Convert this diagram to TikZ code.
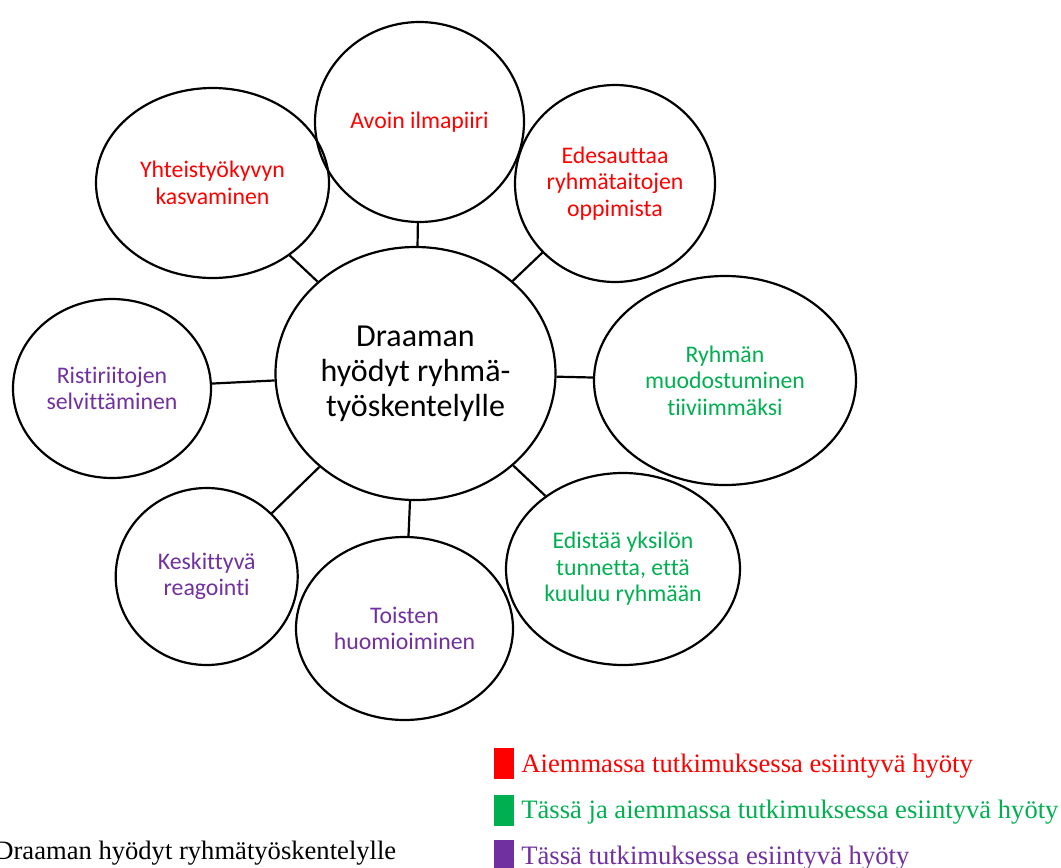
\documentclass[tikz,border=0pt]{standalone}
\usepackage{fontspec}
\setmainfont{Liberation Serif}
\newfontfamily\calibri[Ligatures=NoCommon]{Carlito}
\usetikzlibrary{shapes.geometric}
\definecolor{aiempi}{HTML}{FF0000}
\definecolor{molemmat}{HTML}{00B050}
\definecolor{tama}{HTML}{7030A0}

\begin{document}
\begin{tikzpicture}[x=0.5pt, y=-0.5pt,
    hyoty/.style={draw, line width=1.1pt, ellipse, inner sep=0pt, align=center,
      font=\calibri\fontsize{11.9}{13.25}\selectfont},
    yhteys/.style={line width=1.1pt},
    selite/.style={anchor=base west, inner sep=0pt, font=\fontsize{13.3}{16}\selectfont},
    ruutu/.style={minimum width=10pt, minimum height=15.5pt, inner sep=0pt}]
		      \useasboundingbox (0,0) rectangle (1061,868);
		      \node[hyoty, minimum width=140pt, minimum height=126.5pt,
		        font=\calibri\fontsize{16}{17.5}\selectfont] (keski) at (415.5,373.5) {Draaman\\hyödyt ryhmä-\\työskentelylle};
		      \node[hyoty, text=aiempi, minimum width=104.5pt, minimum height=100pt] (avoin) at (419.5,122) {Avoin ilmapiiri};
		      \node[hyoty, text=aiempi, minimum width=116.5pt, minimum height=95pt] (yhteis) at (212.5,183) {Yhteistyökyvyn\\kasvaminen};
		      \node[hyoty, text=aiempi, minimum width=100pt, minimum height=98.5pt] (edesauttaa) at (615,183.5) {Edesauttaa\\ryhmätaitojen\\oppimista};
		      \node[hyoty, text=tama, minimum width=99pt, minimum height=89.5pt] (risti) at (112,388.5) {Ristiriitojen\\selvittäminen};
		      \node[hyoty, text=molemmat, minimum width=131pt, minimum height=104.5pt] (ryhman) at (725,380.5) {Ryhmän\\muodostuminen\\tiiviimmäksi};
		      \node[hyoty, text=molemmat, minimum width=117pt, minimum height=96pt] (edistaa) at (623,569) {Edistää yksilön\\tunnetta, että\\kuuluu ryhmään};
		      \node[hyoty, text=tama, minimum width=91pt, minimum height=88.5pt] (keskittyva) at (206.7,576.5) {Keskittyvä\\reagointi};
		      \node[hyoty, text=tama, minimum width=108.5pt, minimum height=91.5pt] (toisten) at (404.5,628.5) {Toisten\\huomioiminen};
		      \draw[yhteys] (keski) -- (avoin);
		      \draw[yhteys] (keski) -- (yhteis);
		      \draw[yhteys] (keski) -- (edesauttaa);
		      \draw[yhteys] (keski) -- (risti);
		      \draw[yhteys] (keski) -- (ryhman);
		      \draw[yhteys] (keski) -- (edistaa);
		      \draw[yhteys] (keski) -- (keskittyva);
		      \draw[yhteys] (keski) -- (toisten);

		      % selitteet
		      \node[ruutu, fill=aiempi] (r1) at (504,763.5) {};
		      \node[selite, text=aiempi] (s1) at (521,772) {Aiemmassa tutkimuksessa esiintyvä hyöty};
		      \node[ruutu, fill=molemmat] (r2) at (504,810.5) {};
		      \node[selite, text=molemmat] (s2) at (521,818) {Tässä ja aiemmassa tutkimuksessa esiintyvä hyöty};
		      \node[ruutu, fill=tama] (r3) at (504,855.5) {};
		      \node[selite, text=tama] (s3) at (521,864) {Tässä tutkimuksessa esiintyvä hyöty};
		      \node[selite] (otsikko) at (-6,859) {Draaman hyödyt ryhmätyöskentelylle};
	      \end{tikzpicture}
\end{document}
